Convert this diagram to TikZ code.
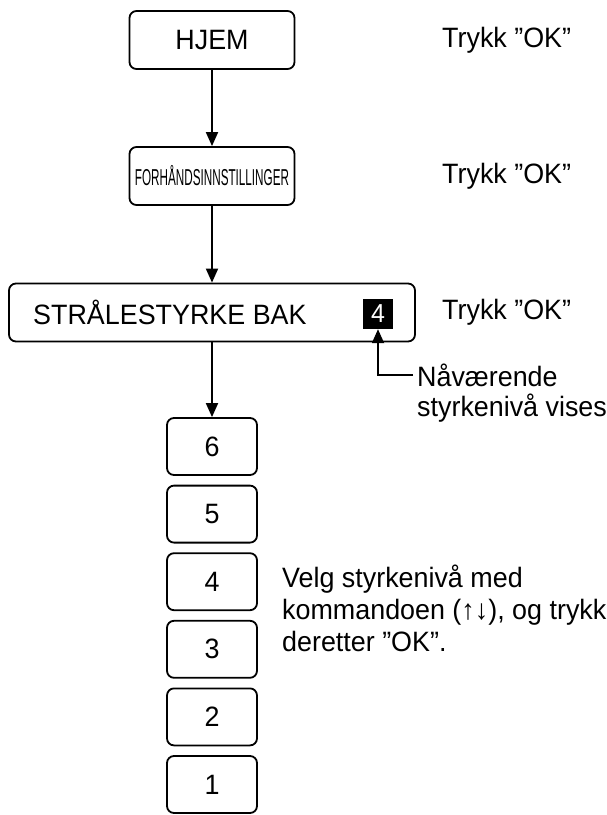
\documentclass[tikz,border=0pt]{standalone}
\usepackage{fontspec}
\setmainfont{Liberation Sans}[FakeStretch=0.96]
\usepackage{graphicx}
\usetikzlibrary{arrows.meta,positioning}

\begin{document}
\begin{tikzpicture}[x=1pt,y=-1pt,>={Triangle[length=14pt,width=12pt]},
  box/.style={draw,line width=1.8pt,rounded corners=7pt,minimum height=58pt,inner sep=0pt,font=\fontsize{28}{31}\selectfont},
  lvl/.style={box,minimum width=90pt,minimum height=57pt},
  txt/.style={anchor=west,inner sep=0pt,font=\fontsize{28}{32}\selectfont},
  conn/.style={line width=1.8pt,->}]
\useasboundingbox (0,0) rectangle (607,815);
\node[box,minimum width=165pt] (home) at (212,40) {HJEM};
\node[box,minimum width=165pt] (preset) at (212,176) {\fontsize{23}{26}\selectfont\scalebox{0.53}[1]{FORHÅNDSINNSTILLINGER}};
\node[box,minimum width=406pt] (rear) at (212,312.5) {};
\node[txt] (reartxt) at (33,312) {STRÅLESTYRKE BAK};
\node[fill=black,text=white,minimum size=30pt,inner sep=0pt,font=\fontsize{26}{28}\selectfont] (cur) at (378,314) {4};
\foreach \n [count=\i] in {6,...,1}
  \node[lvl] (lvl\n) at (212,{446.5+(\i-1)*67.6}) {\n};
\node[txt] (ok1) at (442,40) {Trykk ”OK”};
\node[txt] (ok2) at (442,176) {Trykk ”OK”};
\node[txt] (ok3) at (442,312) {Trykk ”OK”};
\node[txt,inner xsep=4pt] (now) at (413,375) {Nåværende};
\node[txt] (nowb) at (417,408) {styrkenivå vises};
\node[txt,anchor=north west,align=left] (hint) at (282,565) {Velg styrkenivå med\\kommandoen (↑↓), og trykk\\deretter ”OK”.};
\draw[conn] (home) -- (preset);
\draw[conn] (preset) -- (rear);
\draw[conn] (rear) -- (lvl6);
\draw[conn] (now.west) -| (cur.south);
\end{tikzpicture}
\end{document}
